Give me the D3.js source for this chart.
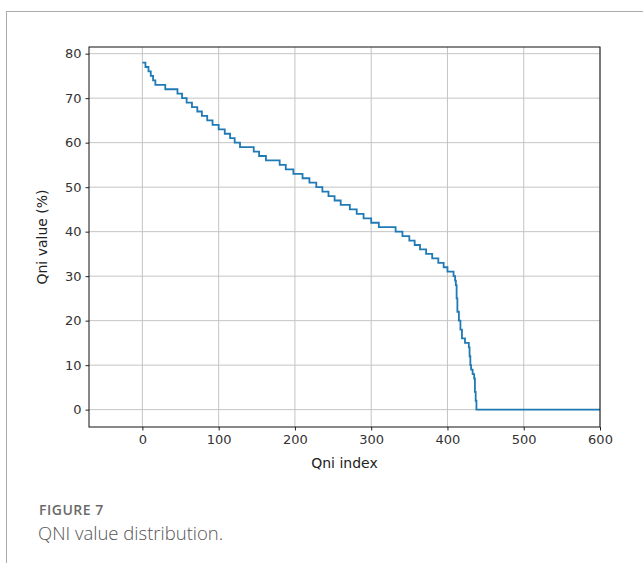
<html>
    <head>
        <meta charset="UTF-8">
        <title>QNI value distribution</title>

        <script src="https://d3js.org/d3.v7.min.js"></script>

        <style>
            body { margin: 0; background: #fff; }
            .tick text { font-family: "DejaVu Sans", sans-serif; font-size: 13px; fill: #333; }
            .axis-label { font-family: "DejaVu Sans", sans-serif; font-size: 14px; fill: #222; }
            .caption-head { font-family: "Open Sans", sans-serif; font-size: 14px; font-weight: 600; fill: #6a6a6a; letter-spacing: 0.5px; }
            .caption-text { font-family: "Open Sans", sans-serif; font-size: 18.5px; font-weight: 300; fill: #555; }
        </style>

    </head>

    <body>
        <svg id='svg1' height='563' width='643'></svg>

        <script>
            // index where each new QNI value starts (sorted descending)
            const stepIndex = [0, 4, 8, 11, 14, 17, 30, 46, 52, 58, 65, 72, 78, 85, 92, 100, 108, 115, 121, 128,
                               146, 153, 162, 180, 188, 198, 210, 219, 228, 236, 244, 252, 260, 272, 281, 290, 300, 310,
                               332, 341, 350, 357, 364, 372, 380, 388, 395, 400, 408,
                               410, 411, 412, 413, 415, 417, 419, 423, 428, 429, 430, 431, 433, 435, 436, 437, 438, 600];
            const stepValue = [78, 77, 76, 75, 74, 73, 72, 71, 70, 69, 68, 67, 66, 65, 64, 63, 62, 61, 60, 59,
                               58, 57, 56, 55, 54, 53, 52, 51, 50, 49, 48, 47, 46, 45, 44, 43, 42, 41,
                               40, 39, 38, 37, 36, 35, 34, 33, 32, 31, 30,
                               29, 28, 25, 22, 20, 18, 16, 15, 14, 12, 10, 9, 8, 7, 4, 2, 0, 0];
            const xTicks = [0, 100, 200, 300, 400, 500, 600];
            const yTicks = [0, 10, 20, 30, 40, 50, 60, 70, 80];

            const svg = d3.select('svg#svg1');
            const plot = {left: 89, right: 600, top: 47, bottom: 427};

            // page frame
            svg.append('line').attr('x1', 6).attr('x2', 643).attr('y1', 11.5).attr('y2', 11.5)
                .style('stroke', '#aaa');
            svg.append('line').attr('x1', 6.5).attr('x2', 6.5).attr('y1', 11).attr('y2', 563)
                .style('stroke', '#aaa');

            const xScale = d3.scaleLinear().domain([-70, 600]).range([plot.left, plot.right]);
            const yScale = d3.scaleLinear().domain([-3.9, 81.5]).range([plot.bottom, plot.top]);

            // grid
            svg.append('g').selectAll('line').data(xTicks).enter().append('line')
                .attr('x1', d => xScale(d)).attr('x2', d => xScale(d))
                .attr('y1', plot.top).attr('y2', plot.bottom)
                .style('stroke', '#c4c4c4').style('stroke-width', 1);
            svg.append('g').selectAll('line').data(yTicks).enter().append('line')
                .attr('x1', plot.left).attr('x2', plot.right)
                .attr('y1', d => yScale(d)).attr('y2', d => yScale(d))
                .style('stroke', '#c4c4c4').style('stroke-width', 1);

            const points = stepIndex.map((d, i) => [d, stepValue[i]]);
            const line = d3.line()
                .x(d => xScale(d[0]))
                .y(d => yScale(d[1]))
                .curve(d3.curveStepAfter);
            svg.append('path')
                .datum(points)
                .attr('d', line)
                .style('fill', 'none')
                .style('stroke', '#1f7ab5')
                .style('stroke-width', 1.8);

            // axes
            let bottomAxis = d3.axisBottom(xScale).tickValues(xTicks).tickSize(3.5).tickPadding(4);
            svg.append('g')
                .attr('transform', `translate(0, ${plot.bottom})`)
                .call(bottomAxis)
                .call(g => g.select('.domain').remove());
            let leftAxis = d3.axisLeft(yScale).tickValues(yTicks).tickSize(3.5).tickPadding(4);
            svg.append('g')
                .attr('transform', `translate(${plot.left}, 0)`)
                .call(leftAxis)
                .call(g => g.select('.domain').remove());
            svg.selectAll('.tick line').style('stroke', '#222');

            svg.append('rect')
                .attr('x', plot.left).attr('y', plot.top)
                .attr('width', plot.right - plot.left).attr('height', plot.bottom - plot.top)
                .style('fill', 'none').style('stroke', '#111').style('stroke-width', 1);

            svg.append('text').attr('class', 'axis-label')
                .attr('x', (plot.left + plot.right) / 2).attr('y', 468)
                .attr('text-anchor', 'middle').text('Qni index');
            svg.append('text').attr('class', 'axis-label')
                .attr('transform', `translate(47, ${(plot.top + plot.bottom) / 2}) rotate(-90)`)
                .attr('text-anchor', 'middle').text('Qni value (%)');

            // caption
            svg.append('text').attr('class', 'caption-head').attr('x', 39).attr('y', 515).text('FIGURE 7');
            svg.append('text').attr('class', 'caption-text').attr('x', 38).attr('y', 540).text('QNI value distribution.');
        </script>

    </body>
</html>
